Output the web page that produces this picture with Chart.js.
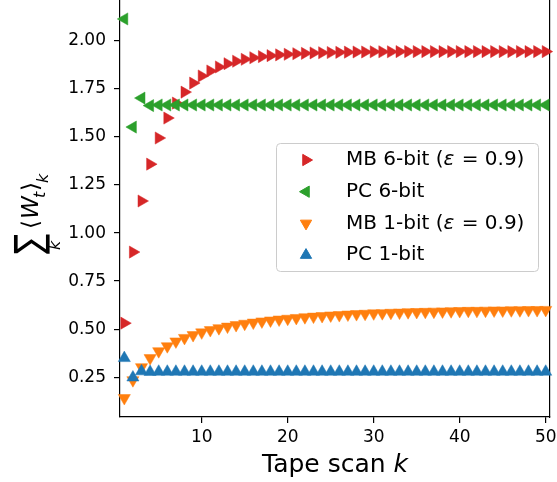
<!DOCTYPE html>
<html>
<head>
<meta charset="utf-8">
<script src="https://cdn.jsdelivr.net/npm/chart.js@4.4.1/dist/chart.umd.min.js"></script>
<style>
  body { margin: 0; background: #fff; }
  #wrap { width: 557px; height: 482px; position: relative; }
</style>
</head>
<body>
<div id="wrap"><canvas id="chart"></canvas></div>
<script>
// tape scan index k
const scans = [1, 2, 3, 4, 5, 6, 7, 8, 9, 10, 11, 12, 13, 14, 15, 16, 17, 18, 19, 20,
  21, 22, 23, 24, 25, 26, 27, 28, 29, 30, 31, 32, 33, 34, 35, 36, 37, 38, 39, 40,
  41, 42, 43, 44, 45, 46, 47, 48, 49, 50];

const mb6 = [0.531, 0.901, 1.167, 1.359, 1.495, 1.599, 1.677, 1.734, 1.781, 1.818,
  1.844, 1.865, 1.882, 1.895, 1.905, 1.913, 1.919, 1.924, 1.928, 1.931,
  1.934, 1.936, 1.938, 1.939, 1.940, 1.941, 1.942, 1.943, 1.943, 1.944,
  1.944, 1.944, 1.945, 1.945, 1.945, 1.945, 1.945, 1.945, 1.945, 1.945,
  1.945, 1.945, 1.945, 1.945, 1.945, 1.945, 1.945, 1.945, 1.945, 1.945];

const pc6 = [2.115, 1.552, 1.703, 1.664, 1.667, 1.667, 1.667, 1.667, 1.667, 1.667,
  1.667, 1.667, 1.667, 1.667, 1.667, 1.667, 1.667, 1.667, 1.667, 1.667,
  1.667, 1.667, 1.667, 1.667, 1.667, 1.667, 1.667, 1.667, 1.667, 1.667,
  1.667, 1.667, 1.667, 1.667, 1.667, 1.667, 1.667, 1.667, 1.667, 1.667,
  1.667, 1.667, 1.667, 1.667, 1.667, 1.667, 1.667, 1.667, 1.667, 1.667];

const mb1 = [0.141, 0.234, 0.302, 0.349, 0.385, 0.411, 0.436, 0.454, 0.469, 0.483,
  0.495, 0.505, 0.513, 0.521, 0.528, 0.534, 0.540, 0.545, 0.550, 0.554,
  0.558, 0.562, 0.565, 0.568, 0.571, 0.573, 0.576, 0.578, 0.580, 0.582,
  0.583, 0.585, 0.586, 0.588, 0.589, 0.590, 0.591, 0.592, 0.593, 0.594,
  0.595, 0.595, 0.596, 0.597, 0.597, 0.598, 0.598, 0.599, 0.599, 0.600];

const pc1 = [0.349, 0.248, 0.280, 0.277, 0.278, 0.278, 0.278, 0.278, 0.278, 0.278,
  0.278, 0.278, 0.278, 0.278, 0.278, 0.278, 0.278, 0.278, 0.278, 0.278,
  0.278, 0.278, 0.278, 0.278, 0.278, 0.278, 0.278, 0.278, 0.278, 0.278,
  0.278, 0.278, 0.278, 0.278, 0.278, 0.278, 0.278, 0.278, 0.278, 0.278,
  0.278, 0.278, 0.278, 0.278, 0.278, 0.278, 0.278, 0.278, 0.278, 0.278];

const xTicks = [10, 20, 30, 40, 50];
const yTicks = [0.25, 0.50, 0.75, 1.00, 1.25, 1.50, 1.75, 2.00];

const seriesNames = ["MB 6-bit", "PC 6-bit", "MB 1-bit", "PC 1-bit"];
const seriesEps = [true, false, true, false];
const seriesColors = ["#d62728", "#2ca02c", "#ff7f0e", "#1f77b4"];
const seriesRot = [90, -90, 180, 0];
const seriesValues = [mb6, pc6, mb1, pc1];

const FONT = "'DejaVu Sans', sans-serif";

function toPoints(vals) {
  return vals.map((v, i) => ({ x: scans[i], y: v }));
}

const datasets = seriesValues.map((vals, i) => ({
  label: seriesNames[i],
  data: toPoints(vals),
  showLine: false,
  pointStyle: "triangle",
  pointRotation: seriesRot[i],
  pointRadius: 7,
  pointHoverRadius: 7,
  pointBackgroundColor: seriesColors[i],
  pointBorderColor: seriesColors[i],
  pointBorderWidth: 0.5,
  order: 4 - i,
  clip: false,
}));

// legend box inside the plot, like matplotlib
const legendBox = {
  id: "legendBox",
  afterDraw(chart) {
    const ctx = chart.ctx;
    ctx.save();
    ctx.beginPath();
    ctx.roundRect(276.5, 143.5, 262, 128, 4);
    ctx.fillStyle = "rgba(255,255,255,0.8)";
    ctx.fill();
    ctx.strokeStyle = "#cccccc";
    ctx.lineWidth = 1;
    ctx.stroke();
    ctx.textBaseline = "middle";
    for (let i = 0; i < seriesNames.length; i++) {
      const y = 160 + i * 31.7;
      ctx.fillStyle = seriesColors[i];
      ctx.strokeStyle = seriesColors[i];
      Chart.helpers.drawPoint(ctx, { pointStyle: "triangle", rotation: seriesRot[i], radius: 6.5, borderWidth: 0.5 }, 306, y);
      ctx.fillStyle = "#000";
      let x = 346;
      ctx.font = "20px " + FONT;
      if (seriesEps[i]) {
        const head = seriesNames[i] + " (";
        ctx.fillText(head, x, y);
        x += ctx.measureText(head).width;
        ctx.font = "italic 20px " + FONT;
        ctx.fillText("ε", x, y);
        x += ctx.measureText("ε").width;
        ctx.font = "20px " + FONT;
        ctx.fillText(" = 0.9)", x + 1, y);
      } else {
        ctx.fillText(seriesNames[i], x, y);
      }
    }
    ctx.restore();
  }
};

// axis titles with math parts
const axisTitles = {
  id: "axisTitles",
  afterDraw(chart) {
    const ctx = chart.ctx;
    ctx.save();
    ctx.fillStyle = "#000";
    ctx.textBaseline = "alphabetic";
    // x title
    const a = "Tape scan ";
    ctx.font = "25px " + FONT;
    const wa = ctx.measureText(a).width;
    ctx.font = "italic 25px " + FONT;
    const wk = ctx.measureText("k").width;
    let x = 335 - (wa + wk) / 2;
    ctx.font = "25px " + FONT;
    ctx.fillText(a, x, 472);
    ctx.font = "italic 25px " + FONT;
    ctx.fillText("k", x + wa, 472);

    // y title, rotated (u runs up the page, v runs right)
    ctx.rotate(-Math.PI / 2);
    ctx.save();
    ctx.translate(-254, 42);
    ctx.scale(1, 1.3);
    ctx.font = "30px " + FONT;
    ctx.fillText("∑", 0, 0);
    ctx.restore();
    const put = (t, font, u, v) => { ctx.font = font; ctx.fillText(t, u, v); };
    put("k", "italic 16px " + FONT, -250, 60);
    put("⟨", "23px " + FONT, -229, 38);
    put("W", "italic 23px " + FONT, -219, 38);
    put("t", "italic 16px " + FONT, -198, 45);
    put("⟩", "23px " + FONT, -191, 38);
    put("k", "italic 16px " + FONT, -183, 48);
    ctx.restore();
  }
};

function noPad(s) {
  s.paddingTop = 0;
  s.paddingBottom = 0;
  s.paddingLeft = 0;
  s.paddingRight = 0;
}

new Chart(document.getElementById("chart"), {
  type: "scatter",
  data: { datasets: datasets },
  options: {
    responsive: true,
    maintainAspectRatio: false,
    animation: false,
    layout: { padding: 0, autoPadding: false },
    plugins: { legend: { display: false }, tooltip: { enabled: false } },
    scales: {
      x: {
        type: "linear",
        position: "bottom",
        min: 0.5,
        max: 50.5,
        afterBuildTicks: (s) => { s.ticks = xTicks.map((v) => ({ value: v })); },
        afterFit: (s) => { s.height = 65; noPad(s); },
        grid: { display: true, drawOnChartArea: false, drawTicks: true, tickLength: 6, color: "#000", lineWidth: 1.2 },
        border: { display: true, color: "#000", width: 1.2 },
        ticks: { color: "#000", font: { family: FONT, size: 17 }, padding: 4, maxRotation: 0 },
      },
      y: {
        type: "linear",
        position: "left",
        min: 0.0423,
        max: 2.2137,
        afterBuildTicks: (s) => { s.ticks = yTicks.map((v) => ({ value: v })); },
        afterFit: (s) => { s.width = 120; noPad(s); },
        grid: { display: true, drawOnChartArea: false, drawTicks: true, tickLength: 6, color: "#000", lineWidth: 1.2 },
        border: { display: true, color: "#000", width: 1.2 },
        ticks: { color: "#000", font: { family: FONT, size: 17 }, padding: 8, callback: (v) => v.toFixed(2) },
      },
      yRight: {
        type: "linear",
        position: "right",
        min: 0.0423,
        max: 2.2137,
        afterFit: (s) => { s.width = 7; noPad(s); },
        grid: { display: false, drawOnChartArea: false, drawTicks: false },
        border: { display: true, color: "#000", width: 1.2 },
        ticks: { display: false },
      },
    },
  },
  plugins: [legendBox, axisTitles],
});
</script>
</body>
</html>
